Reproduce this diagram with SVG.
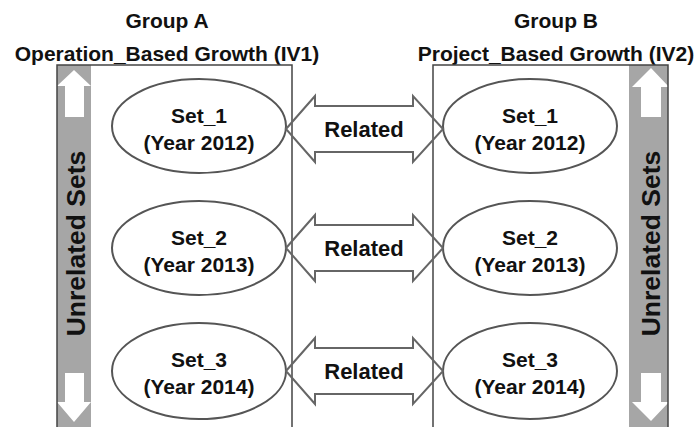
<svg xmlns="http://www.w3.org/2000/svg" width="696" height="427" viewBox="0 0 696 427">
<style>
text{font-family:"Liberation Sans",Arial,sans-serif;font-weight:bold;fill:#111;text-anchor:middle}
.hdr{font-size:21px}
.lbl{font-size:21px}
.rel{font-size:22px}
.unrel{font-size:26.5px}
.box{fill:none;stroke:#444;stroke-width:1.5}
.bar{fill:#a6a6a6}
.barr{fill:#fff}
.ell{fill:none;stroke:#555;stroke-width:2}
.dbl{fill:none;stroke:#666;stroke-width:2;stroke-linejoin:miter}
</style>
<rect width="696" height="427" fill="#fff"/>
<g id="groupA">
  <text class="hdr" x="167" y="28">Group A</text>
  <text class="hdr" x="167" y="61">Operation_Based Growth (IV1)</text>
  <rect class="bar" x="57" y="65" width="34" height="362"/>
  <polygon class="barr" points="74,70 91,86 84,86 84,117 65,117 65,86 57,86"/>
  <polygon class="barr" points="65,373 84,373 84,402 91,402 74,422 57,402 65,402"/>
  <text class="unrel" transform="translate(85,243.5) rotate(-90)" x="0" y="0">Unrelated Sets</text>
  <polyline class="box" points="57,427 57,65 292,65 292,427"/>
</g>
<g id="groupB">
  <text class="hdr" x="556" y="28">Group B</text>
  <text class="hdr" x="556" y="61">Project_Based Growth (IV2)</text>
  <rect class="bar" x="629" y="65" width="39" height="362"/>
  <polygon class="barr" points="651,68 669,87 661,87 661,117 641,117 641,87 632,87"/>
  <polygon class="barr" points="641,373 661,373 661,402 669,402 651,421 632,402 641,402"/>
  <text class="unrel" transform="translate(660,243.5) rotate(-90)" x="0" y="0">Unrelated Sets</text>
  <polyline class="box" points="433,427 433,65 668,65 668,427"/>
</g>
<g id="setA1">
  <ellipse class="ell" cx="199" cy="126" rx="87" ry="47"/>
  <text class="lbl" x="199" y="123">Set_1</text>
  <text class="lbl" x="199" y="150">(Year 2012)</text>
</g>
<g id="setA2">
  <ellipse class="ell" cx="199" cy="248" rx="87" ry="47"/>
  <text class="lbl" x="199" y="245">Set_2</text>
  <text class="lbl" x="199" y="272">(Year 2013)</text>
</g>
<g id="setA3">
  <ellipse class="ell" cx="199" cy="371" rx="87" ry="48"/>
  <text class="lbl" x="199" y="367">Set_3</text>
  <text class="lbl" x="199" y="394">(Year 2014)</text>
</g>
<g id="setB1">
  <ellipse class="ell" cx="530" cy="126" rx="87" ry="47"/>
  <text class="lbl" x="530" y="123">Set_1</text>
  <text class="lbl" x="530" y="150">(Year 2012)</text>
</g>
<g id="setB2">
  <ellipse class="ell" cx="530" cy="248" rx="87" ry="47"/>
  <text class="lbl" x="530" y="245">Set_2</text>
  <text class="lbl" x="530" y="272">(Year 2013)</text>
</g>
<g id="setB3">
  <ellipse class="ell" cx="530" cy="371" rx="87" ry="48"/>
  <text class="lbl" x="530" y="367">Set_3</text>
  <text class="lbl" x="530" y="394">(Year 2014)</text>
</g>
<g id="connectors">
  <polygon class="dbl" points="286,129 315,96 315,106 413,106 413,96 443,129 413,162 413,152 315,152 315,162"/>
  <text class="rel" x="364" y="137">Related</text>
  <polygon class="dbl" points="286,248 315,215 315,225 413,225 413,215 443,248 413,281 413,271 315,271 315,281"/>
  <text class="rel" x="364" y="256">Related</text>
  <polygon class="dbl" points="286,371 315,338 315,348 413,348 413,338 443,371 413,404 413,394 315,394 315,404"/>
  <text class="rel" x="364" y="379">Related</text>
</g>
</svg>
